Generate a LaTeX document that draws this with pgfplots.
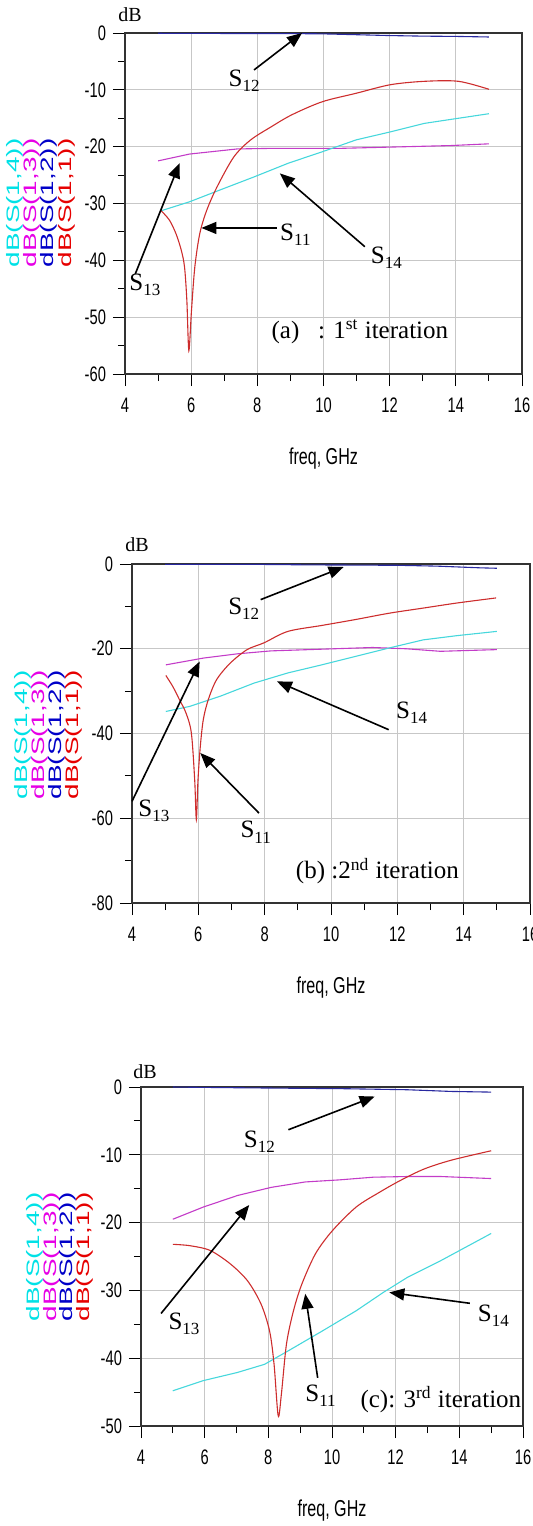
\documentclass[border=0pt]{standalone}
\usepackage{fontspec}
\setmainfont{Liberation Serif}
\newfontfamily\narrowsf[FakeStretch=0.7]{Liberation Sans}
\newfontfamily\widesf[FakeStretch=1.55]{Liberation Sans}
\usepackage{pgfplots}
\pgfplotsset{compat=1.18}
\usetikzlibrary{arrows.meta}

\definecolor{cS11}{RGB}{205,45,45}
\definecolor{cS12}{RGB}{40,40,160}
\definecolor{cS13}{RGB}{195,60,200}
\definecolor{cS14}{RGB}{70,215,220}
\definecolor{tS11}{RGB}{230,0,0}
\definecolor{tS12}{RGB}{0,0,200}
\definecolor{tS13}{RGB}{230,0,230}
\definecolor{tS14}{RGB}{0,225,230}

\newcommand\Sp[1]{S\raisebox{-0.45ex}{\fontsize{8.5}{8.5}\selectfont #1}}

\tikzset{
  arr/.style={-{Triangle[length=7.5pt,width=6pt]}, line width=0.8pt, black},
  lbl/.style={font=\fontsize{12.5}{13}\selectfont},
  flbl/.style={font=\narrowsf\fontsize{11.5}{11.5}\selectfont},
}
\pgfplotsset{
  sparam/.style={
    scale only axis, clip=false,
    anchor=south west,
    xmin=4, xmax=16, xtick={4,6,...,16},
    minor x tick num=1, minor y tick num=1,
    axis line style={black!80, line width=0.6pt},
    tick align=outside, tick pos=left,
    major tick length=6pt, minor tick length=3.5pt,
    tick style={black, line width=0.5pt},
    grid=major, grid style={black!22, line width=0.5pt},
    ticklabel style={font=\narrowsf\fontsize{10.5}{10.5}\selectfont},
    xticklabel style={yshift=-2.5pt},
    /pgf/number format/assume math mode=true,
    every axis plot/.append style={line width=0.55pt, no marks},
  },
}

\begin{document}
\begin{tikzpicture}
\useasboundingbox (0pt,0pt) rectangle (266pt,-763pt);

% ---------------- (a) 1st iteration ----------------
\begin{axis}[sparam, at={(62.5pt,-187pt)}, width=198.5pt, height=170.5pt,
  ymin=-60, ymax=0, ytick={-60,-50,...,0}]
\addplot[cS12] coordinates {(5,-0.05) (7,-0.08) (9,-0.1) (10,-0.15) (11,-0.3)
  (12,-0.45) (13,-0.55) (14,-0.6) (15,-0.7)};
\addplot[cS13] coordinates {(5.0,-22.5) (5.95,-21.3) (7.39,-20.4) (8.42,-20.3)
  (10.48,-20.3) (12.53,-20.0) (13.87,-19.8) (15.0,-19.5)};
\addplot[cS14] coordinates {(5.08,-31.3) (5.95,-29.7) (6.88,-27.6) (7.91,-25.3)
  (8.94,-22.9) (9.96,-20.9) (10.99,-18.8) (12.02,-17.4) (13.05,-15.9)
  (14.08,-15.0) (15,-14.2)};
\addplot[cS11, smooth] coordinates {(5.08,-31.2) (5.34,-32.9) (5.54,-35.3)
  (5.70,-38.2) (5.80,-41.2) (5.87,-47.1) (5.93,-55.9) (6.01,-48.8) (6.11,-41.2)
  (6.26,-35.3) (6.47,-31.2) (6.78,-27.1) (7.29,-21.8) (7.80,-18.8) (8.42,-16.5)
  (9.04,-14.4) (9.96,-12.1) (10.99,-10.6) (12.02,-9.1) (13.05,-8.5)
  (14.08,-8.5) (15.0,-9.9)};
\draw[arr] (axis cs:7.9,-6.5) -- (axis cs:9.35,0);
\node[lbl] at (axis cs:7.6,-8.4) {\Sp{12}};
\draw[arr] (axis cs:4.31,-42.4) -- (axis cs:5.65,-22.9);
\node[lbl] at (axis cs:4.6,-44.3) {\Sp{13}};
\draw[arr] (axis cs:8.58,-34.3) -- (axis cs:6.31,-34.3);
\node[lbl] at (axis cs:9.15,-35.5) {\Sp{11}};
\draw[arr] (axis cs:11.25,-37.6) -- (axis cs:8.68,-24.7);
\node[lbl] at (axis cs:11.9,-39.6) {\Sp{14}};
\node[lbl] at (axis cs:11.1,-52.6) {(a)\ \ \ : 1\textsuperscript{st} iteration};
\node[flbl] at (rel axis cs:0.5,0) [yshift=-42.5pt] {freq, GHz};
\end{axis}
\node[font=\fontsize{10}{10}\selectfont] at (65pt,-7.5pt) {dB};
\begin{scope}[every node/.style={rotate=90, inner sep=0pt, font=\widesf\fontsize{9}{9}\selectfont}]
\node[text=tS14] at (7.5pt,-101.5pt) {dB(S(1,4))};
\node[text=tS13] at (16pt,-101.5pt) {dB(S(1,3))};
\node[text=tS12] at (24.5pt,-101.5pt) {dB(S(1,2))};
\node[text=tS11] at (33.5pt,-101.5pt) {dB(S(1,1))};
\end{scope}

% ---------------- (b) 2nd iteration ----------------
\begin{axis}[sparam, at={(66pt,-451.5pt)}, width=199pt, height=169.5pt,
  ymin=-80, ymax=0, ytick={-80,-60,...,0}]
\addplot[cS12] coordinates {(5,-0.1) (8,-0.1) (9.3,-0.2) (12,-0.3) (13.2,-0.5)
  (14.5,-0.9) (15,-1.0)};
\addplot[cS13] coordinates {(5.02,-23.8) (6.15,-22.2) (7.17,-21.2) (8.19,-20.5)
  (9.72,-20.1) (11.25,-19.7) (12.27,-20.0) (13.3,-20.6) (15,-20.2)};
\addplot[cS14] coordinates {(5.02,-34.8) (5.74,-33.6) (6.66,-31.2) (7.68,-28.1)
  (8.7,-25.7) (9.72,-23.8) (10.74,-21.8) (11.76,-19.8) (12.78,-17.9)
  (13.8,-16.9) (15,-15.9)};
\addplot[cS11, smooth] coordinates {(5.02,-26.3) (5.23,-28.9) (5.43,-32.0)
  (5.63,-35.2) (5.79,-39.9) (5.89,-50.9) (5.94,-60.3) (5.99,-50.9) (6.06,-43.0)
  (6.15,-36.7) (6.30,-32.0) (6.55,-27.3) (6.96,-23.4) (7.47,-20.2) (7.98,-18.6)
  (8.70,-15.9) (9.72,-14.5) (10.74,-13.1) (11.76,-11.6) (12.78,-10.4)
  (13.8,-9.2) (14.98,-8.0)};
\draw[arr] (axis cs:7.88,-8.4) -- (axis cs:10.38,-0.7);
\node[lbl] at (axis cs:7.37,-10.6) {\Sp{12}};
\draw[arr] (axis cs:4.0,-56) -- (axis cs:6.04,-23);
\node[lbl] at (axis cs:4.66,-58.2) {\Sp{13}};
\draw[arr] (axis cs:7.83,-58.8) -- (axis cs:6.06,-44.6);
\node[lbl] at (axis cs:7.73,-63.3) {\Sp{11}};
\draw[arr] (axis cs:11.74,-39.1) -- (axis cs:8.37,-27.7);
\node[lbl] at (axis cs:12.43,-35.0) {\Sp{14}};
\node[lbl] at (axis cs:11.4,-72.5) {(b) :2\textsuperscript{nd} iteration};
\node[flbl] at (rel axis cs:0.5,0) [yshift=-42.5pt] {freq, GHz};
\end{axis}
\node[font=\fontsize{10}{10}\selectfont] at (68.5pt,-272.5pt) {dB};
\begin{scope}[every node/.style={rotate=90, inner sep=0pt, font=\widesf\fontsize{9}{9}\selectfont}]
\node[text=tS14] at (11.5pt,-367.5pt) {dB(S(1,4))};
\node[text=tS13] at (20pt,-367.5pt) {dB(S(1,3))};
\node[text=tS12] at (28.5pt,-367.5pt) {dB(S(1,2))};
\node[text=tS11] at (37pt,-367.5pt) {dB(S(1,1))};
\end{scope}

% ---------------- (c) 3rd iteration ----------------
\begin{axis}[sparam, at={(70.5pt,-713pt)}, width=191pt, height=169.5pt,
  ymin=-50, ymax=0, ytick={-50,-40,...,0}]
\addplot[cS12] coordinates {(5,0) (6.92,-0.1) (10.44,-0.25) (12.36,-0.4)
  (13.74,-0.65) (15,-0.75)};
\addplot[cS13] coordinates {(5,-19.5) (5.96,-17.7) (7.03,-16.0) (8.09,-14.8)
  (9.16,-14.0) (10.22,-13.7) (11.29,-13.3) (12.36,-13.2) (13.42,-13.2) (15,-13.5)};
\addplot[cS14] coordinates {(5,-44.8) (5.96,-43.3) (7.03,-42.1) (7.88,-40.9)
  (8.63,-38.9) (9.69,-36.0) (10.76,-33.0) (11.61,-30.3) (12.36,-28.1)
  (13.42,-25.6) (15,-21.6)};
\addplot[cS11, smooth] coordinates {(5,-23.2) (5.53,-23.4) (6.17,-24.1)
  (6.81,-26.1) (7.35,-28.6) (7.77,-32.0) (8.04,-36.0) (8.18,-40.9) (8.31,-48.5)
  (8.41,-45.3) (8.57,-37.9) (8.79,-33.0) (9.05,-29.1) (9.48,-24.6) (10.01,-21.2)
  (10.76,-17.7) (11.5,-15.5) (12.14,-13.8) (12.89,-12.1) (13.74,-10.8) (15,-9.4)};
\draw[arr] (axis cs:8.63,-6.3) -- (axis cs:11.34,-1.4);
\node[lbl] at (axis cs:7.72,-8.1) {\Sp{12}};
\draw[arr] (axis cs:4.63,-33.4) -- (axis cs:7.4,-17.4);
\node[lbl] at (axis cs:5.35,-34.9) {\Sp{13}};
\draw[arr] (axis cs:9.55,-42.9) -- (axis cs:9.16,-30.5);
\node[lbl] at (axis cs:9.64,-45.5) {\Sp{11}};
\draw[arr] (axis cs:14.33,-31.9) -- (axis cs:11.8,-30.3);
\node[lbl] at (axis cs:15.07,-33.7) {\Sp{14}};
\node[lbl] at (axis cs:13.42,-46.1) {(c): 3\textsuperscript{rd} iteration};
\node[flbl] at (rel axis cs:0.5,0) [yshift=-42.5pt] {freq, GHz};
\end{axis}
\node[font=\fontsize{10}{10}\selectfont] at (72.5pt,-536pt) {dB};
\begin{scope}[every node/.style={rotate=90, inner sep=0pt, font=\widesf\fontsize{9}{9}\selectfont}]
\node[text=tS14] at (17.5pt,-628.5pt) {dB(S(1,4))};
\node[text=tS13] at (26pt,-628.5pt) {dB(S(1,3))};
\node[text=tS12] at (34pt,-628.5pt) {dB(S(1,2))};
\node[text=tS11] at (42.5pt,-628.5pt) {dB(S(1,1))};
\end{scope}
\end{tikzpicture}
\end{document}
